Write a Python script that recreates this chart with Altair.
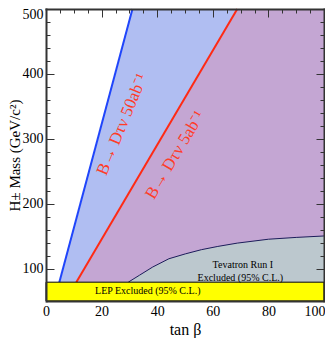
import altair as alt
import pandas as pd

# ---------------- data ----------------
tanb_ticks = [0, 20, 40, 60, 80, 100]
mass_ticks = [100, 200, 300, 400, 500]
tanb_minor = [5, 10, 15, 25, 30, 35, 45, 50, 55, 65, 70, 75, 85, 90, 95]
mass_minor = [120, 140, 160, 180, 220, 240, 260, 280, 320, 340, 360, 380,
              420, 440, 460, 480]

mass_floor = 50
lep_limit = 79

blue_tanb = [4.8, 31.1, 100]
blue_mass = [79, 500, 500]
red_tanb = [10.9, 68.8, 100]
red_mass = [79, 500, 500]

tev_tanb = [29.6, 33.7, 38.4, 44.2, 50.1, 55.9, 61.8, 68.8, 80, 90, 100]
tev_mass = [79, 89.9, 102.4, 115.1, 122.6, 129.1, 134.1, 139.2, 145.2, 148, 150.2]

red_labels = ["B\u2192 D\u03c4\u03bd 50ab\u207b\u00b9", "B\u2192 D\u03c4\u03bd 5ab\u207b\u00b9"]
red_label_tanb = [27.4, 46.5]
red_label_mass = [322, 275]

black_labels = ["Tevatron Run I", "Excluded (95% C.L.)", "LEP Excluded (95% C.L.)"]
black_label_tanb = [70.8, 69.9, 36.6]
black_label_mass = [106, 85.8, 64.7]

# ---------------- tables ----------------
blue_df = pd.DataFrame({"tb": blue_tanb, "top": blue_mass, "base": [lep_limit] * len(blue_tanb)})
red_df = pd.DataFrame({"tb": red_tanb, "top": red_mass, "base": [lep_limit] * len(red_tanb)})
tev_df = pd.DataFrame({"tb": tev_tanb, "top": tev_mass, "base": [lep_limit] * len(tev_tanb)})
blue_line_df = blue_df.iloc[:2]
red_line_df = red_df.iloc[:2]
lep_df = pd.DataFrame({"x0": [tanb_ticks[0]], "x1": [tanb_ticks[-1]],
                       "y0": [mass_floor], "y1": [lep_limit]})
red_txt_df = pd.DataFrame({"tb": red_label_tanb, "m": red_label_mass, "t": red_labels})
blk_txt_df = pd.DataFrame({"tb": black_label_tanb, "m": black_label_mass, "t": black_labels})

FONT = "Liberation Serif"
W, H = 278, 292
FRAME = "#333333"

xs = alt.Scale(domain=[0, 100], nice=False, zero=False)
ys = alt.Scale(domain=[50, 500], nice=False, zero=False)

# ---------------- axes ----------------
ax_x_labels = alt.Axis(values=tanb_ticks, ticks=False, domain=True, domainWidth=2,
                       domainColor=FRAME, labelPadding=3, labelFontSize=14,
                       labelFlush=False,
                       labelAlign={"condition": {"test": "datum.value == 100", "value": "right"},
                                   "value": "center"},
                       labelOffset={"condition": {"test": "datum.value == 100", "value": 1},
                                    "value": 0},
                       title="tan \u03b2", titleFontSize=16,
                       titlePadding=3, grid=False, zindex=1)
ax_y_labels = alt.Axis(values=mass_ticks, ticks=False, domain=False, labelPadding=3,
                       labelFontSize=14, grid=False,
                       labelBaseline={"condition": {"test": "datum.value == 500", "value": "top"},
                                      "value": "middle"},
                       labelOffset={"condition": {"test": "datum.value == 500", "value": -2},
                                    "value": 0},
                       title="H\u00b1 Mass (GeV/c\u00b2)", titleFontSize=15, titlePadding=0)


def tick_axis(orient, offset, values, size, domain):
    return alt.Axis(orient=orient, offset=offset, values=values, labels=False, title=None,
                    tickSize=size, tickColor=FRAME, tickWidth=1, domain=domain,
                    domainWidth=2, domainColor=FRAME, domainCap="square",
                    grid=False, zindex=1)


ax_y_left_major = tick_axis("right", -W, mass_ticks, 8, True)
ax_y_left_minor = tick_axis("right", -W, mass_minor, 4, False)
ax_y_right_major = tick_axis("left", -W, mass_ticks, 8, True)
ax_y_right_minor = tick_axis("left", -W, mass_minor, 4, False)
ax_x_top_major = tick_axis("bottom", -H, tanb_ticks, 8, True)
ax_x_top_minor = tick_axis("bottom", -H, tanb_minor, 4, False)

# ---------------- layers ----------------
blue_area = alt.Chart(blue_df).mark_area(fill="#b0bef2").encode(
    x=alt.X("tb:Q", scale=xs, axis=ax_x_labels),
    y=alt.Y("top:Q", scale=ys, axis=ax_y_labels),
    y2="base:Q")

red_area = alt.Chart(red_df).mark_area(fill="#c4a6d3").encode(
    x=alt.X("tb:Q", scale=xs, axis=ax_x_top_major),
    y=alt.Y("top:Q", scale=ys, axis=ax_y_left_major),
    y2="base:Q")

tev_area = alt.Chart(tev_df).mark_area(fill="#bcc8ce").encode(
    x=alt.X("tb:Q", scale=xs, axis=ax_x_top_minor),
    y=alt.Y("top:Q", scale=ys, axis=ax_y_left_minor),
    y2="base:Q")

tev_line = alt.Chart(tev_df).mark_line(color="#1c1c5a", strokeWidth=1).encode(
    x=alt.X("tb:Q", scale=xs, axis=None),
    y=alt.Y("top:Q", scale=ys, axis=ax_y_right_major))

blue_line = alt.Chart(blue_line_df).mark_line(color="#1f45fb", strokeWidth=2).encode(
    x=alt.X("tb:Q", scale=xs, axis=None),
    y=alt.Y("top:Q", scale=ys, axis=ax_y_right_minor))

red_line = alt.Chart(red_line_df).mark_line(color="#ff2a14", strokeWidth=2).encode(
    x=alt.X("tb:Q", scale=xs, axis=None),
    y=alt.Y("top:Q", scale=ys, axis=None))

lep_band = alt.Chart(lep_df).mark_rect(fill="#ffff00", stroke="black", strokeWidth=1).encode(
    x=alt.X("x0:Q", scale=xs, axis=None), x2="x1:Q",
    y=alt.Y("y0:Q", scale=ys, axis=None), y2="y1:Q")

txt1 = alt.Chart(red_txt_df.iloc[:1]).mark_text(
    font=FONT, fontSize=17, color="#ff3c28", angle=292.5, align="center", baseline="middle"
).encode(x=alt.X("tb:Q", scale=xs, axis=None), y=alt.Y("m:Q", scale=ys, axis=None), text="t:N")

txt2 = alt.Chart(red_txt_df.iloc[1:]).mark_text(
    font=FONT, fontSize=17, color="#ff3c28", angle=301, align="center", baseline="middle"
).encode(x=alt.X("tb:Q", scale=xs, axis=None), y=alt.Y("m:Q", scale=ys, axis=None), text="t:N")

txt3 = alt.Chart(blk_txt_df).mark_text(
    font=FONT, fontSize=10, color="black", align="center", baseline="middle"
).encode(x=alt.X("tb:Q", scale=xs, axis=None), y=alt.Y("m:Q", scale=ys, axis=None), text="t:N")

chart = alt.layer(
    blue_area, red_area, tev_area, tev_line, blue_line, red_line, lep_band, txt1, txt2, txt3
).resolve_axis(x="independent", y="independent").properties(
    width=W, height=H,
    autosize=alt.AutoSizeParams(type="none"),
    padding={"left": 38, "top": 1, "right": 1, "bottom": 37},
).configure_axis(
    labelFont=FONT, titleFont=FONT, labelColor="black", titleColor="black",
    titleFontWeight="normal"
).configure_view(stroke=None)

chart.save("out.html", embed_options={"renderer": "svg", "actions": False})
